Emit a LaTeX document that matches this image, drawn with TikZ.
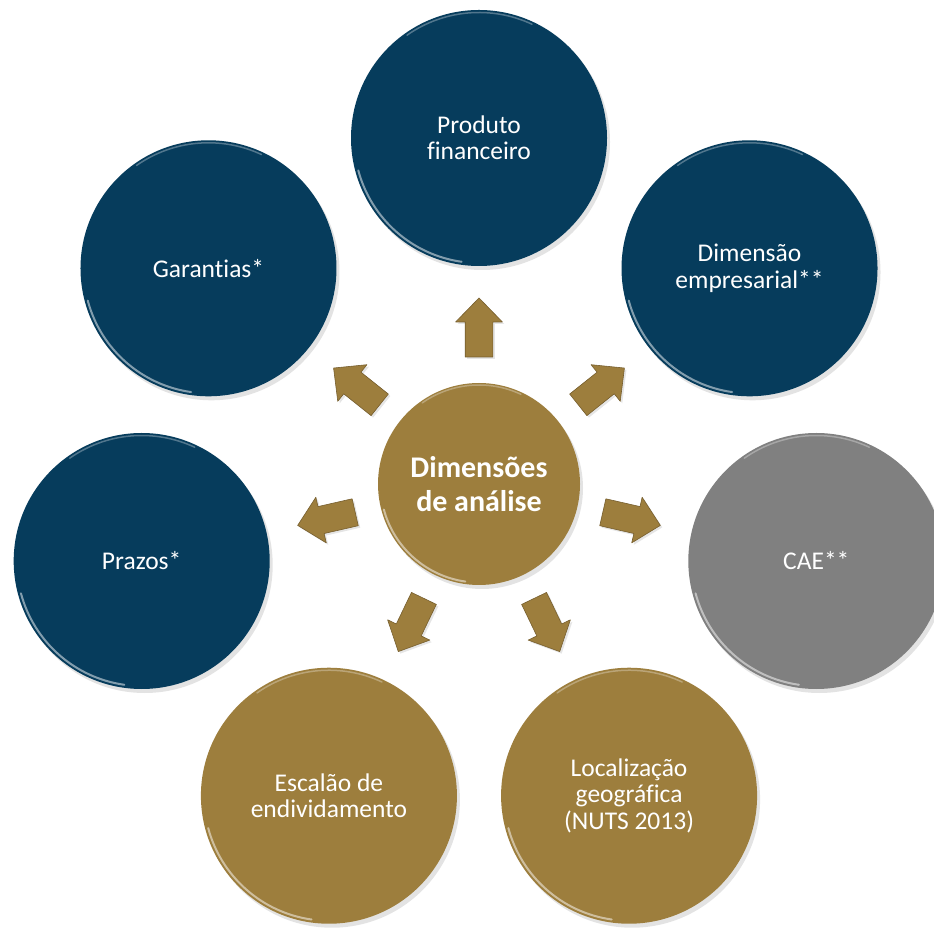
\documentclass[tikz,border=0pt]{standalone}
\usepackage{fontspec}
\setmainfont{Carlito}[Ligatures={NoCommon}]
\usetikzlibrary{shadows,calc}
\definecolor{navy}{RGB}{6,60,92}
\definecolor{gold}{RGB}{157,126,61}
\definecolor{greyc}{RGB}{128,128,128}
\begin{document}
\begin{tikzpicture}[x=1pt,y=1pt,
  bubble/.style={circle, minimum size=256pt, inner sep=0pt, text=white, align=center,
    font=\fontsize{25.5}{26.5}\selectfont,
    drop shadow={opacity=0.22, shadow xshift=3pt, shadow yshift=-4pt}},
  corebubble/.style={circle, minimum size=202pt, inner sep=0pt, text=white, align=center,
    fill=gold, font=\bfseries\fontsize{30}{34}\selectfont,
    drop shadow={opacity=0.22, shadow xshift=3pt, shadow yshift=-4pt}},
  rim/.style={white, line width=2pt, opacity=0.5, line cap=round},
  toprim/.style={white, line width=1.5pt, opacity=0.3, line cap=round},
  blockarrow/.style={fill=gold, draw=gold!75!black, line width=0.6pt, line join=round,
    drop shadow={opacity=0.2, shadow xshift=2pt, shadow yshift=-2pt}}]
\useasboundingbox (0,0) rectangle (934,929);
\clip (0,0) rectangle (934,929);
\fill[white] (0,0) rectangle (934,929);
\coordinate (C) at (479,445);
\node[corebubble] (core) at (C) {Dimensões\\de análise};
\node[bubble, fill=navy] (prod) at ($(C)+(90:346)$) {Produto\\financeiro};
\node[bubble, fill=navy] (dim) at ($(C)+(38.57:346)$) {Dimensão\\empresarial**};
\node[bubble, fill=greyc] (cae) at ($(C)+(-12.86:346)$) {CAE**};
\node[bubble, fill=gold] (loc) at ($(C)+(-64.29:346)$) {Localização\\geográfica\\(NUTS 2013)};
\node[bubble, fill=gold] (esc) at ($(C)+(-115.71:346)$) {Escalão de\\endividamento};
\node[bubble, fill=navy] (praz) at ($(C)+(192.86:346)$) {Prazos*};
\node[bubble, fill=navy] (gar) at ($(C)+(141.43:346)$) {Garantias*};
\foreach \n in {prod,dim,cae,loc,esc,praz,gar}{
  \draw[rim] ([shift={(195:125)}]\n.center) arc[start angle=195, end angle=262, radius=125];
  \draw[toprim] ([shift={(65:125.5)}]\n.center) arc[start angle=65, end angle=125, radius=125.5];
}
\draw[rim] ([shift={(195:98.5)}]core.center) arc[start angle=195, end angle=262, radius=98.5];
\draw[toprim] ([shift={(65:99)}]core.center) arc[start angle=65, end angle=125, radius=99];
\foreach \a in {90,38.57,-12.86,-64.29,-115.71,192.86,141.43}{
  \path[blockarrow, shift={(core.center)}, rotate=\a]
    (127,-13.8) -- (162,-13.8) -- (162,-23.4) -- (186,0) -- (162,23.4) -- (162,13.8) -- (127,13.8) -- cycle;
}
\end{tikzpicture}
\end{document}
